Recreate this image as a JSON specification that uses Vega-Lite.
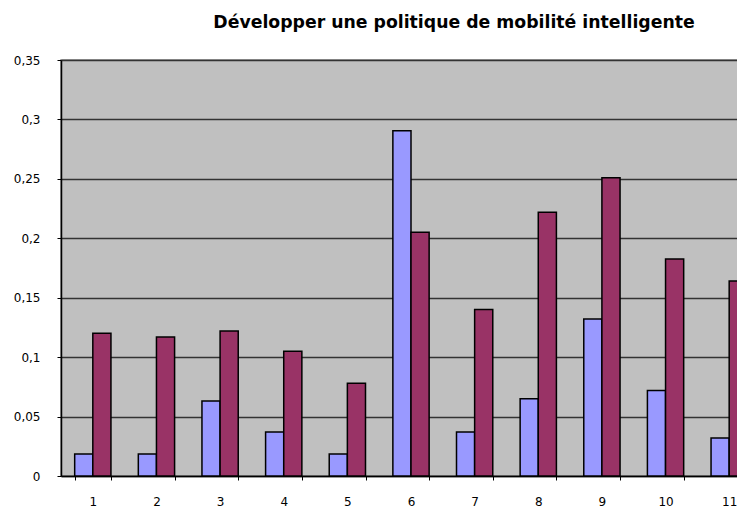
{
  "$schema": "https://vega.github.io/schema/vega-lite/v6.json",
  "autosize": {"type": "none"},
  "width": 700,
  "height": 416,
  "padding": {"left": 61, "top": 60, "right": 0, "bottom": 34},
  "background": "white",
  "title": {
    "text": "Développer une politique de mobilité intelligente",
    "font": "DejaVu Sans",
    "fontSize": 17.3,
    "fontWeight": "bold",
    "color": "#000000",
    "anchor": "middle",
    "dx": 43,
    "offset": 23
  },
  "config": {
    "view": {"fill": "#c0c0c0", "stroke": "#808080", "strokeWidth": 1.5},
    "axis": {"labelFont": "DejaVu Sans", "labelFontSize": 12, "labelColor": "#000000", "domainColor": "#000000", "tickColor": "#000000"}
  },
  "data": {
    "values": [
      {"cat": "1", "serie": "A", "v": 0.0185},
      {"cat": "1", "serie": "B", "v": 0.12},
      {"cat": "2", "serie": "A", "v": 0.0185},
      {"cat": "2", "serie": "B", "v": 0.117},
      {"cat": "3", "serie": "A", "v": 0.063},
      {"cat": "3", "serie": "B", "v": 0.122},
      {"cat": "4", "serie": "A", "v": 0.037},
      {"cat": "4", "serie": "B", "v": 0.105},
      {"cat": "5", "serie": "A", "v": 0.0185},
      {"cat": "5", "serie": "B", "v": 0.078},
      {"cat": "6", "serie": "A", "v": 0.2905},
      {"cat": "6", "serie": "B", "v": 0.205},
      {"cat": "7", "serie": "A", "v": 0.037},
      {"cat": "7", "serie": "B", "v": 0.14},
      {"cat": "8", "serie": "A", "v": 0.065},
      {"cat": "8", "serie": "B", "v": 0.222},
      {"cat": "9", "serie": "A", "v": 0.132},
      {"cat": "9", "serie": "B", "v": 0.251},
      {"cat": "10", "serie": "A", "v": 0.072},
      {"cat": "10", "serie": "B", "v": 0.1825},
      {"cat": "11", "serie": "A", "v": 0.032},
      {"cat": "11", "serie": "B", "v": 0.164}
    ]
  },
  "mark": {"type": "bar", "stroke": "#000000", "strokeWidth": 1.5},
  "encoding": {
    "x": {
      "field": "cat",
      "type": "ordinal",
      "sort": null,
      "title": null,
      "scale": {"paddingInner": 0.43, "paddingOuter": 0.215},
      "axis": {"labelAngle": 0, "tickBand": "extent", "tickSize": 4, "labelPadding": 16, "domainWidth": 1.5, "tickWidth": 1, "grid": false}
    },
    "xOffset": {"field": "serie", "type": "nominal", "scale": {"paddingInner": 0, "paddingOuter": 0}},
    "y": {
      "field": "v",
      "type": "quantitative",
      "title": null,
      "scale": {"domain": [0, 0.35], "nice": false},
      "axis": {
        "values": [0, 0.05, 0.1, 0.15, 0.2, 0.25, 0.3, 0.35],
        "labelExpr": "replace(format(datum.value, '.2~f'), '.', ',')",
        "tickSize": 4,
        "labelPadding": 17,
        "domainWidth": 1.5,
        "grid": true,
        "gridColor": "#333333",
        "gridWidth": 1.5,
        "gridOpacity": 1
      }
    },
    "color": {
      "field": "serie",
      "type": "nominal",
      "scale": {"domain": ["A", "B"], "range": ["#9999ff", "#993366"]},
      "legend": null
    }
  }
}
